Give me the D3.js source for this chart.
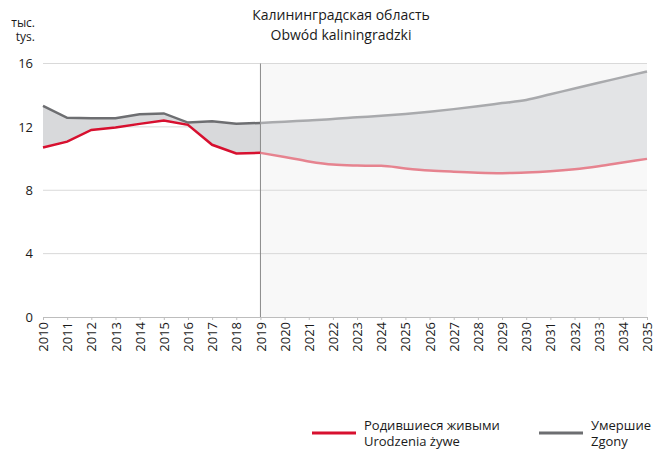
<!DOCTYPE html>
<html>
  <head>
    <meta charset="utf-8">
    <title>Kaliningrad</title>
    <script src="https://d3js.org/d3.v7.min.js"></script>
    <style>
      body { margin: 0; background: #fff; }
      text { font-family: "Open Sans", "Noto Sans", sans-serif; fill: #1a1a1a; }
    </style>
  </head>
  <body>
    <script>
      var years  = d3.range(2010, 2036);
      var births = [10.7, 11.07, 11.81, 11.96, 12.19, 12.4, 12.13, 10.87, 10.32, 10.36,
                    10.1, 9.82, 9.62, 9.56, 9.54, 9.38, 9.25, 9.17, 9.11, 9.08,
                    9.12, 9.2, 9.33, 9.52, 9.75, 9.98];
      var deaths = [13.33, 12.57, 12.55, 12.55, 12.8, 12.85, 12.27, 12.36, 12.19, 12.25,
                    12.33, 12.41, 12.49, 12.6, 12.7, 12.82, 12.96, 13.12, 13.3, 13.5,
                    13.7, 14.06, 14.42, 14.78, 15.14, 15.5];
      var yTicks = [0, 4, 8, 12, 16];
      var splitYear = 2019;

      var data = years.map(function(y, i) { return {year: y, b: births[i], d: deaths[i]}; });
      var hist = data.filter(function(d) { return d.year <= splitYear; });
      var fcst = data.filter(function(d) { return d.year >= splitYear; });

      var svg = d3.select("body").append("svg")
        .attr("width", 657)
        .attr("height", 450);

      var x = d3.scaleLinear().domain([2010, 2035]).range([43, 647]);
      var y = d3.scaleLinear().domain([0, 16]).range([317, 63.5]);

      // forecast background
      svg.append("rect")
        .attr("x", x(splitYear)).attr("y", y(16))
        .attr("width", x(2035) - x(splitYear)).attr("height", y(0) - y(16))
        .attr("fill", "#f8f8f8");

      // grid
      svg.selectAll("line.grid")
        .data(yTicks.filter(function(t) { return t > 0; }))
        .enter().append("line")
          .attr("x1", x(2010)).attr("x2", x(2035))
          .attr("y1", function(d) { return y(d); })
          .attr("y2", function(d) { return y(d); })
          .attr("stroke", "#d9d9d9").attr("stroke-width", 1);

      var area = d3.area()
        .x(function(d) { return x(d.year); })
        .y0(function(d) { return y(d.b); })
        .y1(function(d) { return y(d.d); });

      svg.append("path").datum(hist).attr("d", area).attr("fill", "#d8d9db");
      svg.append("path").datum(fcst).attr("d", area.curve(d3.curveMonotoneX)).attr("fill", "#e3e4e6");

      // split line
      svg.append("line")
        .attr("x1", x(splitYear)).attr("x2", x(splitYear))
        .attr("y1", y(16)).attr("y2", y(0))
        .attr("stroke", "#8a8a8a").attr("stroke-width", 1);

      var lineB = d3.line().x(function(d) { return x(d.year); }).y(function(d) { return y(d.b); });
      var lineD = d3.line().x(function(d) { return x(d.year); }).y(function(d) { return y(d.d); });

      svg.append("path").datum(hist).attr("d", lineD)
        .attr("fill", "none").attr("stroke", "#6d6e71").attr("stroke-width", 2.5);
      svg.append("path").datum(hist).attr("d", lineB)
        .attr("fill", "none").attr("stroke", "#d7102f").attr("stroke-width", 2.5);
      svg.append("path").datum(fcst).attr("d", lineD.curve(d3.curveMonotoneX))
        .attr("fill", "none").attr("stroke", "#a9aaad").attr("stroke-width", 2.5);
      svg.append("path").datum(fcst).attr("d", lineB.curve(d3.curveMonotoneX))
        .attr("fill", "none").attr("stroke", "#e6838f").attr("stroke-width", 2.5);

      // x axis
      var xAxis = svg.append("g")
        .attr("transform", "translate(0," + y(0) + ")")
        .call(d3.axisBottom(x).tickValues(years).tickFormat(d3.format("d")).tickSize(3).tickPadding(4));
      xAxis.select(".domain").attr("stroke", "#bdbdbd");
      xAxis.selectAll(".tick line").attr("stroke", "#bdbdbd");
      xAxis.selectAll("text")
        .attr("transform", "rotate(-90)")
        .attr("x", -5).attr("y", 0).attr("dy", "0.35em")
        .style("text-anchor", "end")
        .style("font-size", "13px");

      // y axis
      var yAxis = svg.append("g")
        .attr("transform", "translate(" + x(2010) + ",0)")
        .call(d3.axisLeft(y).tickValues(yTicks).tickSize(0).tickPadding(10));
      yAxis.select(".domain").remove();
      yAxis.selectAll("text").style("font-size", "13px");

      svg.append("text").attr("x", 35).attr("y", 27).attr("text-anchor", "end")
        .style("font-size", "12px").text("тыс.");
      svg.append("text").attr("x", 35).attr("y", 41).attr("text-anchor", "end")
        .style("font-size", "12px").text("tys.");

      // title
      svg.append("text").attr("x", 341).attr("y", 20).attr("text-anchor", "middle")
        .style("font-size", "14px").text("Калининградская область");
      svg.append("text").attr("x", 341).attr("y", 40).attr("text-anchor", "middle")
        .style("font-size", "14px").text("Obwód kaliningradzki");

      // legend
      var legend = [
        {x: 312, color: "#d7102f", lines: ["Родившиеся живыми", "Urodzenia żywe"]},
        {x: 539, color: "#6d6e71", lines: ["Умершие", "Zgony"]}
      ];
      var lg = svg.selectAll("g.legend").data(legend).enter().append("g")
        .attr("transform", function(d) { return "translate(" + d.x + ",0)"; });
      lg.append("line").attr("x1", 0).attr("x2", 44).attr("y1", 433).attr("y2", 433)
        .attr("stroke", function(d) { return d.color; }).attr("stroke-width", 3);
      lg.append("text").attr("x", 52).attr("y", 430).style("font-size", "13px")
        .text(function(d) { return d.lines[0]; });
      lg.append("text").attr("x", 52).attr("y", 446).style("font-size", "13px")
        .text(function(d) { return d.lines[1]; });
    </script>
  </body>
</html>
